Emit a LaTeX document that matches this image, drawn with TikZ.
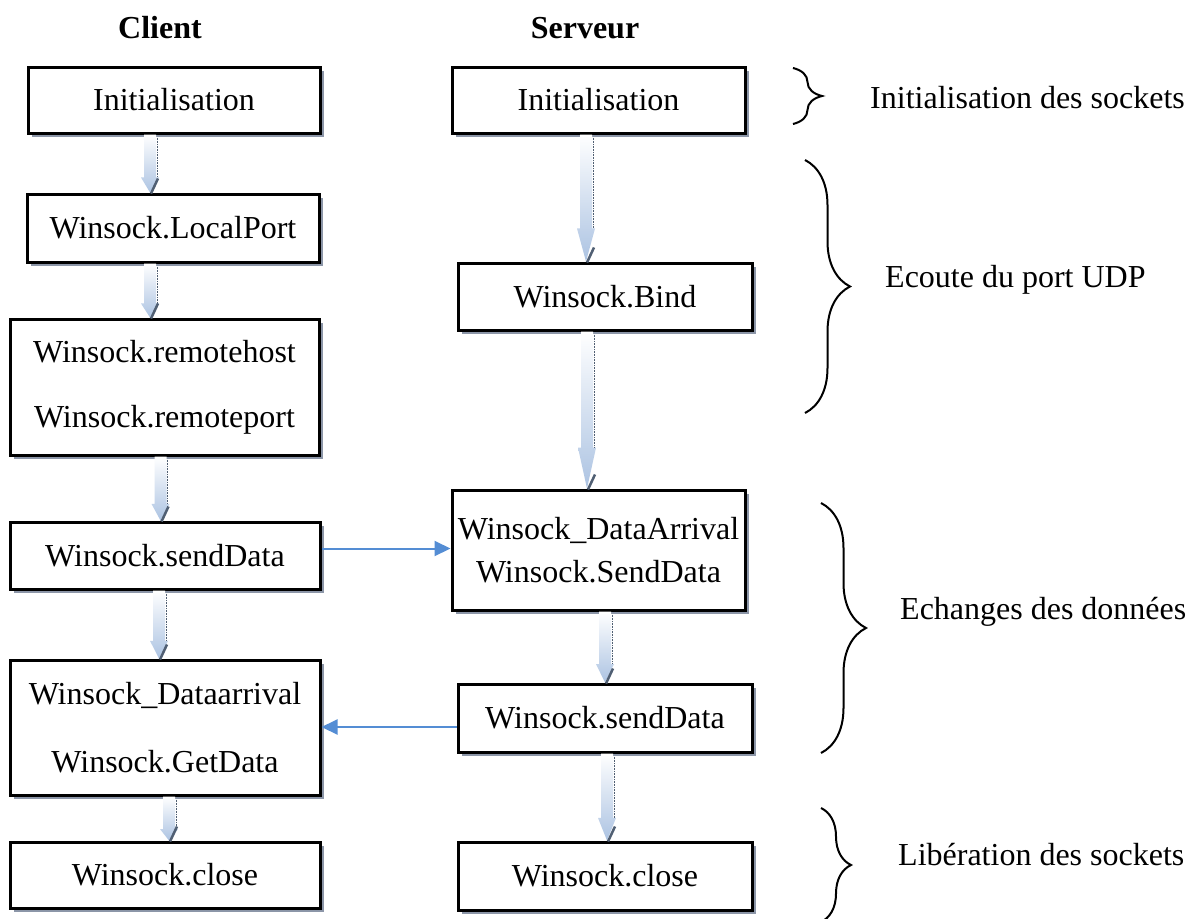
\documentclass[tikz,border=0pt]{standalone}
\usepackage{fontspec}
\setmainfont{Liberation Serif}
\usetikzlibrary{decorations.pathreplacing,arrows.meta,shadows,calc}
\definecolor{shadowgray}{RGB}{140,150,168}
\definecolor{arrowblue}{RGB}{172,195,226}
\definecolor{linkblue}{RGB}{84,141,212}
\definecolor{tipdark}{RGB}{80,95,115}
\tikzset{
  box/.style={draw=black, line width=3pt, fill=white, inner sep=0pt,
    font=\fontsize{32}{36}\selectfont, align=center,
    general shadow={shadow xshift=4pt, shadow yshift=-4pt, fill=shadowgray}},
  head/.style={font=\fontsize{32}{36}\selectfont\bfseries},
  lbl/.style={font=\fontsize{32}{36}\selectfont, anchor=west, inner sep=0pt},
  brc/.style={decorate, line width=2pt, decoration={brace, amplitude=#1}},
  bshade/.style={top color=white, bottom color=arrowblue, draw=none},
  link/.style={draw=linkblue, line width=2pt, -{Triangle[length=16pt,width=15pt]}}
}
% block arrow: #1 source node, #2 target node, #3 x offset from source centre
\newcommand\blockarr[3]{%
  \path[bshade] let \p1=([xshift=#3]#1.south), \p2=(#2.north),
      \n1={0.26*(\y1-\y2)} in
    (\x1-6pt,\y1) -- (\x1+6pt,\y1) -- (\x1+6pt,\y2+\n1) -- (\x1+9pt,\y2+\n1)
    -- (\x1,\y2) -- (\x1-9pt,\y2+\n1) -- (\x1-6pt,\y2+\n1) -- cycle;
  \draw[tipdark, line width=0.6pt, densely dotted] let \p1=([xshift=#3]#1.south), \p2=(#2.north),
      \n1={0.26*(\y1-\y2)} in
    (\x1+7pt,\y1-3pt) -- (\x1+7pt,\y2+\n1);
  \draw[tipdark, line width=2.5pt] let \p1=([xshift=#3]#1.south), \p2=(#2.north) in
    (\x1+1pt,\y2-1pt) -- (\x1+8pt,\y2+14pt);
}
\begin{document}
\begin{tikzpicture}[x=1pt,y=-1pt]
\useasboundingbox[fill=white] (0,0) rectangle (1204,918);

% headers
\node[head] (hc) at (160,28) {Client};
\node[head] (hs) at (585,28) {Serveur};

% client column
\node[box, minimum width=292pt, minimum height=66pt] (ci)  at (174,100)   {Initialisation};
\node[box, minimum width=292pt, minimum height=68pt] (clp) at (173,228)   {Winsock.LocalPort};
\node[box, minimum width=309pt, minimum height=136pt] (crh) at (164.5,387) {Winsock.remotehost\\[29pt]Winsock.remoteport};
\node[box, minimum width=310pt, minimum height=67pt] (csd) at (165,555.5) {Winsock.sendData};
\node[box, minimum width=310pt, minimum height=135pt] (cda) at (165,727.5) {Winsock\_Dataarrival\\[32pt]Winsock.GetData};
\node[box, minimum width=310pt, minimum height=66pt] (ccl) at (165,875)   {Winsock.close};

% server column
\node[box, minimum width=293pt, minimum height=66pt] (si)  at (598.5,100) {Initialisation};
\node[box, minimum width=294pt, minimum height=67pt] (sb)  at (605,296.5) {Winsock.Bind};
\node[box, minimum width=293pt, minimum height=120pt] (sda) at (598.5,550) {Winsock\_DataArrival\\[7pt]Winsock.SendData};
\node[box, minimum width=294pt, minimum height=68pt] (ssd) at (605,718)   {Winsock.sendData};
\node[box, minimum width=294pt, minimum height=68pt] (scl) at (605,876)   {Winsock.close};

% block arrows
\blockarr{ci}{clp}{-24pt}
\blockarr{clp}{crh}{-23pt}
\blockarr{crh}{csd}{-4pt}
\blockarr{csd}{cda}{-6pt}
\blockarr{cda}{ccl}{4pt}
\blockarr{si}{sb}{-12.5pt}
\blockarr{sb}{sda}{-18pt}
\blockarr{sda}{ssd}{6.5pt}
\blockarr{ssd}{scl}{2pt}

% blue links
\draw[link] ([yshift=7pt]csd.east) -- ([yshift=7pt]csd.east -| sda.west);
\draw[link] ([yshift=-9pt]ssd.west) -- ([yshift=-9pt]ssd.west -| cda.east);

% braces
\coordinate (b1t) at (793,68);  \coordinate (b1b) at (793,124);
\coordinate (b2t) at (805,160); \coordinate (b2b) at (805,413);
\coordinate (b3t) at (821,503); \coordinate (b3b) at (821,753);
\coordinate (b4t) at (821,808); \coordinate (b4b) at (821,922);
\draw[brc=29pt] (b1t) -- (b1b);
\draw[brc=45pt] (b2t) -- (b2b);
\draw[brc=45pt] (b3t) -- (b3b);
\draw[brc=30pt] (b4t) -- (b4b);

% brace labels
\node[lbl] (l1) at (870,98)  {Initialisation des sockets};
\node[lbl] (l2) at (885,280) {Ecoute du port UDP};
\node[lbl] (l3) at (900,612) {Echanges des données};
\node[lbl] (l4) at (898,855) {Libération des sockets};
\end{tikzpicture}
\end{document}
